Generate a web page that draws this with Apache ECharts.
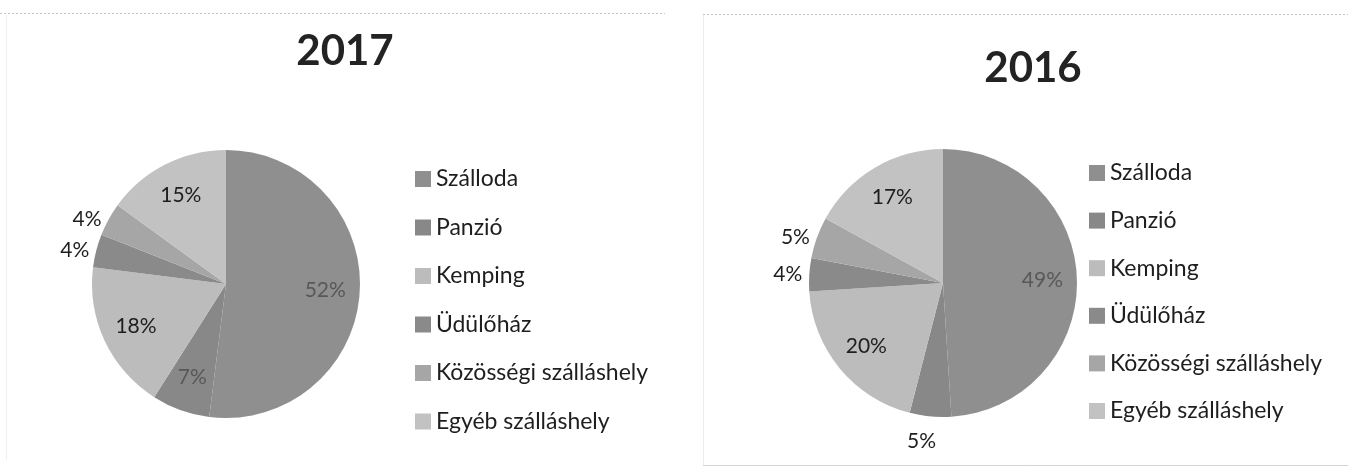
<!DOCTYPE html>
<html>
<head>
<meta charset="utf-8">
<script src="https://cdn.jsdelivr.net/npm/echarts@6/dist/echarts.min.js"></script>
<style>
    html, body { margin: 0; padding: 0; background: #fff; }
    #main { width: 1348px; height: 468px; }
</style>
</head>
<body>
<div id="main"></div>
<script>
var categories = ['Szálloda', 'Panzió', 'Kemping', 'Üdülőház', 'Közösségi szálláshely', 'Egyéb szálláshely'];
var values2017 = [52, 7, 18, 4, 4, 15];
var values2016 = [49, 5, 20, 4, 5, 17];
var years = ['2017', '2016'];

// grayscale scan look
var colors = ['#8f8f8f', '#888888', '#bcbcbc', '#8a8a8a', '#a6a6a6', '#c2c2c2'];
var labelColors = ['#585858', '#585858', '#1e1e1e', '#1e1e1e', '#1e1e1e', '#1e1e1e'];
var FONT = 'Lato, "Noto Sans", sans-serif';
var R = 134;

function buildPie(values, center) {
    var total = 0;
    for (var i = 0; i < values.length; ++i) {
        total += values[i];
    }
    var mainData = [];
    var labelData = [];
    var acc = 0;
    for (var i = 0; i < values.length; ++i) {
        var mid = (acc + values[i] / 2) / total * Math.PI * 2;
        acc += values[i];
        var dy = -Math.cos(mid);
        var outside = values[i] <= 5;
        var vertical = Math.abs(dy) > 0.9;
        mainData.push({
            name: categories[i],
            value: values[i],
            itemStyle: { color: colors[i] },
            label: {
                show: outside,
                position: 'outside',
                color: '#1e1e1e',
                distanceToLabelLine: vertical ? -8 : 7
            },
            labelLine: { show: false, length: vertical ? 25 : 0, length2: 0 }
        });
        labelData.push({
            name: categories[i],
            value: values[i],
            label: { show: !outside, color: labelColors[i] }
        });
    }
    return [{
        type: 'pie',
        center: center,
        radius: R,
        avoidLabelOverlap: false,
        silent: true,
        itemStyle: { borderWidth: 0 },
        label: { formatter: '{c}%', fontFamily: FONT, fontSize: 21 },
        emphasis: { disabled: true },
        data: mainData
    }, {
        // transparent ring, only carries the inner labels
        type: 'pie',
        center: center,
        radius: [R * 0.44, R],
        avoidLabelOverlap: false,
        silent: true,
        itemStyle: { color: 'rgba(0,0,0,0)', borderWidth: 0 },
        label: { position: 'inside', formatter: '{c}%', fontFamily: FONT, fontSize: 21 },
        labelLine: { show: false },
        emphasis: { disabled: true },
        data: labelData
    }];
}

function buildLegend(left, top, gap) {
    return {
        orient: 'vertical',
        left: left,
        top: top,
        itemWidth: 16,
        itemHeight: 16,
        itemGap: gap,
        icon: 'rect',
        selectedMode: false,
        data: categories,
        textStyle: { fontFamily: FONT, fontSize: 23, lineHeight: 24, color: '#1e1e1e' }
    };
}

function line(x1, y1, x2, y2, color, dash) {
    return {
        type: 'line',
        silent: true,
        shape: { x1: x1, y1: y1, x2: x2, y2: y2 },
        style: { stroke: color, lineWidth: 1, lineDash: dash }
    };
}

var chart = echarts.init(document.getElementById('main'), null, { renderer: 'canvas' });
var series = buildPie(values2017, [226, 284]).concat(buildPie(values2016, [943, 283]));

var option = {
    animation: false,
    backgroundColor: '#fff',
    title: [{
        text: years[0],
        left: 340,
        top: 25,
        textAlign: 'center',
        textStyle: { fontFamily: FONT, fontWeight: 'bold', fontSize: 42, color: '#232323' }
    }, {
        text: years[1],
        left: 1028,
        top: 42,
        textAlign: 'center',
        textStyle: { fontFamily: FONT, fontWeight: 'bold', fontSize: 42, color: '#232323' }
    }],
    legend: [buildLegend(410, 162, 24.5), buildLegend(1084, 156, 23.6)],
    graphic: [
        line(0, 13.5, 665, 13.5, '#c4c4c4', [2, 2]),
        line(703, 14.5, 1348, 14.5, '#c4c4c4', [2, 2]),
        line(703.5, 15, 703.5, 465, '#ececec', null),
        line(703, 465.5, 1348, 465.5, '#d4d4d4', null),
        line(6.5, 15, 6.5, 460, '#f0f0f0', null)
    ],
    series: series
};
chart.setOption(option);
</script>
</body>
</html>
